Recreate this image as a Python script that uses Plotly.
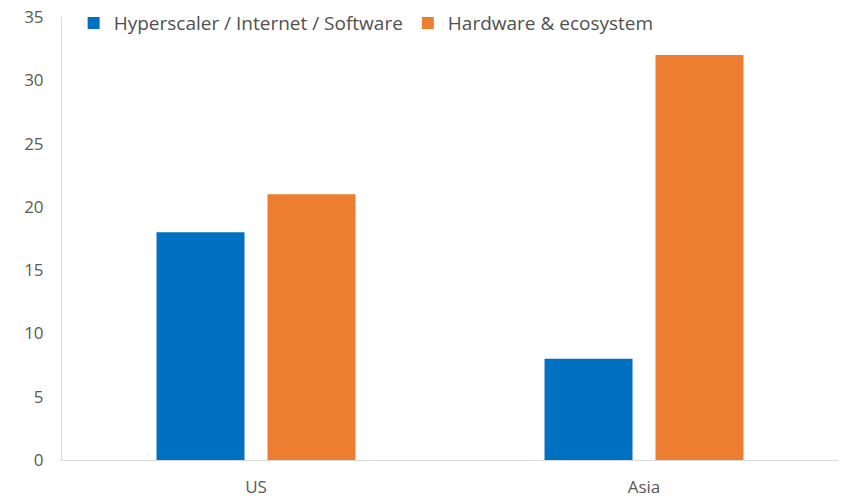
import plotly.graph_objects as go

categories = ["US", "Asia"]
hyperscaler = [18, 8]
hardware = [21, 32]
series_names = ["Hyperscaler / Internet / Software", "Hardware & ecosystem"]
y_ticks = [0, 5, 10, 15, 20, 25, 30, 35]

font_family = "Open Sans, Noto Sans, sans-serif"
grey = "#595959"

fig = go.Figure()
fig.add_trace(go.Bar(x=categories, y=hyperscaler, name=series_names[0],
                     marker=dict(color="#0070C0", line=dict(width=0))))
fig.add_trace(go.Bar(x=categories, y=hardware, name=series_names[1],
                     marker=dict(color="#ED7D31", line=dict(width=0))))

fig.update_layout(
    width=844, height=497,
    margin=dict(l=62, r=6, t=17, b=37, autoexpand=False),
    plot_bgcolor="white", paper_bgcolor="white",
    barmode="group", bargap=0.428, bargroupgap=0.207,
    font=dict(family=font_family, color=grey, size=16),
    legend=dict(orientation="h", x=0.015, y=0.986, xanchor="left", yanchor="middle",
                font=dict(size=19, color="#505050"), bgcolor="rgba(0,0,0,0)",
                itemwidth=30, traceorder="normal"),
    xaxis=dict(showline=True, linecolor="#d9d9d9", linewidth=1, ticks="outside",
               ticklen=12, tickcolor="rgba(0,0,0,0)", automargin=False,
               showgrid=False, tickfont=dict(size=17, color=grey)),
    yaxis=dict(range=[0, 35], tickvals=y_ticks, showline=True, linecolor="#d9d9d9",
               linewidth=1, showgrid=False, zeroline=False, ticks="outside",
               ticklen=14, tickcolor="rgba(0,0,0,0)", automargin=False,
               tickfont=dict(size=17, color=grey)),
)

fig.write_html("out.html", config={"displayModeBar": False},
               post_script="document.body.style.margin='0';document.body.style.overflow='hidden';")
